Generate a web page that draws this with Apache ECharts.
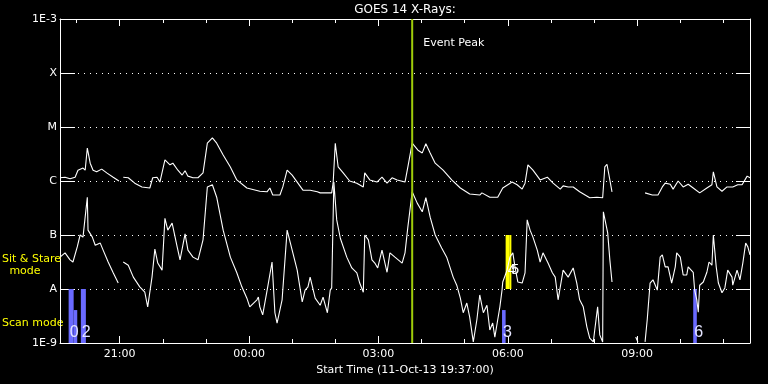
<!DOCTYPE html>
<html><head><meta charset="utf-8">
<script src="https://cdn.jsdelivr.net/npm/echarts@6/dist/echarts.min.js"></script>
<style>html,body{margin:0;padding:0;background:#000}#c{width:768px;height:384px}</style>
</head><body><div id="c"></div>
<script>
// Time axis: minutes after 00:00 on 11-Oct-13; plot starts 19:37, spans 16 h
const START_MIN = 1177;
const SPAN_MIN = 960;
const xTickValues = [1260, 1440, 1620, 1800, 1980];
const xTickLabels = ['21:00', '00:00', '03:00', '06:00', '09:00'];
// Y axis: log10 of X-ray flux (W/m^2)
const yTickLabels = ['1E-9', 'A', 'B', 'C', 'M', 'X', '1E-3'];

// Long channel (1-8 A): minutes after start, log10 flux
const longT = [0,7,14,21,25,32,35,38,42,46,51,58,65,74,82,85,88,95,104,114,125,129,135,139,146,153,157,164,170,174,178,185,192,199,205,212,218,227,237,246,260,278,288,292,296,306,310,316,323,330,338,348,358,362,378,380,383,387,394,403,413,422,424,431,441,448,455,462,469,480,484,490,498,504,509,515,522,533,545,557,570,584,587,598,609,616,629,636,643,647,651,658,668,678,686,696,700,707,714,723,737,747,755,758,761,765,768,790,814,824,832,838,842,849,853,860,867,874,881,890,900,907,909,914,921,928,936,943,949,956,960];
const longLog = [-5.94,-5.93,-5.96,-5.93,-5.80,-5.76,-5.80,-5.39,-5.67,-5.80,-5.83,-5.78,-5.85,-5.93,-6.00,null,-5.93,-5.94,-6.04,-6.11,-6.13,-5.94,-5.93,-6.02,-5.61,-5.70,-5.67,-5.80,-5.89,-5.81,-5.91,-5.94,-5.94,-5.85,-5.30,-5.20,-5.30,-5.52,-5.74,-5.98,-6.13,-6.19,-6.20,-6.13,-6.26,-6.26,-6.11,-5.80,-5.89,-6.02,-6.17,-6.17,-6.20,-6.22,-6.22,-6.04,-5.30,-5.74,-5.85,-6.00,-6.04,-6.11,-5.85,-5.98,-6.02,-5.93,-6.04,-5.94,-5.98,-6.02,-5.74,-5.30,-5.43,-5.48,-5.31,-5.48,-5.67,-5.80,-5.98,-6.13,-6.24,-6.26,-6.22,-6.30,-6.30,-6.13,-6.02,-6.07,-6.15,-6.04,-5.70,-5.80,-5.98,-5.93,-6.04,-6.15,-6.09,-6.11,-6.11,-6.20,-6.31,-6.30,-6.31,-5.74,-5.69,-5.98,-6.20,null,-6.22,-6.26,-6.26,-6.11,-6.04,-6.06,-6.15,-6.00,-6.11,-6.06,-6.13,-6.22,-6.13,-6.07,-5.83,-6.11,-6.19,-6.11,-6.11,-6.07,-6.07,-5.91,-5.94];

// Short channel (0.5-4 A): minutes after start, log10 flux
const shortT = [0,7,14,18,24,28,32,35,38,39,45,49,56,60,67,74,81,85,88,95,102,111,118,122,128,132,136,142,146,150,156,163,167,174,178,185,192,199,205,212,218,227,237,246,253,260,264,274,276,278,282,289,295,299,302,309,316,323,330,337,341,345,348,355,362,366,372,376,378,381,385,390,399,406,413,417,422,424,429,434,438,442,448,455,459,466,476,480,484,490,497,504,509,515,522,531,538,547,552,557,561,566,570,575,580,584,589,594,598,602,605,609,612,615,616,622,626,630,633,637,643,647,650,651,654,658,664,668,672,679,685,689,693,700,707,714,719,723,728,733,737,742,744,748,751,755,756,758,762,765,768,785,801,804,810,814,817,821,825,831,835,838,842,846,851,856,858,863,867,872,874,881,883,886,888,890,895,900,903,907,909,913,916,921,925,929,935,936,942,946,950,954,957,960];
const shortLog = [-7.41,-7.33,-7.46,-7.50,-7.22,-7.00,-7.04,-6.67,-6.30,-6.91,-7.04,-7.19,-7.15,-7.28,-7.50,-7.70,-7.89,null,-7.50,-7.56,-7.78,-7.96,-8.06,-8.33,-7.78,-7.26,-7.52,-7.65,-6.69,-6.91,-6.78,-7.22,-7.46,-6.98,-7.28,-7.41,-7.46,-7.09,-6.11,-6.07,-6.30,-6.91,-7.41,-7.70,-7.96,-8.17,-8.33,-8.20,-8.15,-8.33,-8.48,-7.96,-7.50,-8.44,-8.63,-8.20,-6.91,-7.28,-7.65,-8.24,-8.02,-7.96,-7.78,-8.17,-8.30,-8.15,-8.44,-8.02,-7.98,-6.02,-6.72,-7.06,-7.41,-7.61,-7.70,-7.89,-8.06,-7.00,-7.09,-7.46,-7.52,-7.61,-7.28,-7.69,-7.33,-7.41,-7.52,-7.33,-6.85,-6.20,-6.41,-6.57,-6.31,-6.67,-7.00,-7.24,-7.41,-7.78,-7.93,-8.17,-8.44,-8.26,-8.52,-8.98,-8.57,-8.11,-8.44,-8.30,-8.76,-8.63,-8.89,-8.57,-8.33,-8.02,-7.87,-7.65,-7.41,-7.33,-7.59,-7.87,-7.89,-7.70,-6.72,-6.69,-6.91,-7.04,-7.28,-7.50,-7.33,-7.52,-7.70,-7.78,-8.20,-7.65,-7.78,-7.61,-7.89,-8.20,-8.33,-8.70,-8.91,-8.98,-8.76,-8.33,-8.85,-8.98,-6.57,-6.57,-6.96,-7.46,-7.87,null,-8.89,-8.98,null,-8.98,-8.57,-7.89,-7.83,-8.02,-7.41,-7.37,-7.59,-7.59,-7.89,-7.59,-7.33,-7.41,-7.74,-7.74,-7.59,-7.69,-8.02,-8.20,-8.43,-7.93,-7.87,-7.69,-7.50,-7.56,-7.00,-7.59,-7.89,-8.07,-7.98,-7.65,-7.78,-7.93,-7.65,-7.83,-7.52,-7.15,-7.22,-7.37];

// Scan mode periods (minutes after start) and their bar heights (log10)
const scanStart = [12, 19, 29, 615, 881];
const scanEnd = [19, 24, 36, 620, 886];
const scanTop = [-8, -8.39, -8, -8.39, -8];
const scanLabels = ['0', '', '2', '3', '6'];
// Sit & stare periods
const stareStart = [620, 625];
const stareEnd = [625, 628];
const stareTop = [-7, -7];
const stareBottom = [-8, -8];
const stareLabels = ['4', '5'];
// Event peak
const peakT = 490;

const FONT = 'DejaVu Sans';
const Y_MIN = -9, Y_MAX = -3;
const LABEL_LEVEL = -8.81, STARE_LABEL_LEVEL = -7.65;

const chart = echarts.init(document.getElementById('c'), null, {renderer: 'canvas'});
const toPairs = (ts, vs) => ts.map((t, i) => [START_MIN + t, vs[i] === null ? '-' : vs[i]]);
const fmtX = v => { const i = xTickValues.indexOf(Math.round(v)); return i >= 0 ? xTickLabels[i] : ''; };

const majorX = (pos, withLabels) => ({
  type: 'value', position: pos, min: START_MIN, max: START_MIN + SPAN_MIN,
  minInterval: 180, maxInterval: 180,
  axisLine: {show: true, onZero: false, lineStyle: {color: '#fff', width: 1}},
  axisTick: {show: true, inside: true, length: 7, lineStyle: {color: '#fff', width: 1}},
  axisLabel: withLabels ? {show: true, color: '#fff', fontSize: 11, fontFamily: FONT, margin: 6,
    showMinLabel: false, showMaxLabel: false, formatter: fmtX} : {show: false},
  splitLine: {show: false}
});
const minorX = (pos) => ({
  type: 'value', position: pos, min: START_MIN, max: START_MIN + SPAN_MIN,
  minInterval: 60, maxInterval: 60,
  axisLine: {show: false, onZero: false},
  axisTick: {show: true, inside: true, length: 4, lineStyle: {color: '#fff', width: 1}},
  axisLabel: {show: false}, splitLine: {show: false}
});

const xBottom = majorX('bottom', true);
xBottom.name = 'Start Time (11-Oct-13 19:37:00)';
xBottom.nameLocation = 'middle';
xBottom.nameGap = 19;
xBottom.nameTextStyle = {color: '#fff', fontSize: 11, fontFamily: FONT};

const option = {
  backgroundColor: '#000',
  animation: false,
  grid: {left: 60, right: 18, top: 19, bottom: 41, containLabel: false},
  xAxis: [xBottom, majorX('top', false), minorX('bottom'), minorX('top')],
  yAxis: [
    {type: 'value', position: 'left', min: Y_MIN, max: Y_MAX, interval: 1,
     axisLine: {show: true, onZero: false, lineStyle: {color: '#fff', width: 1}},
     axisTick: {show: true, inside: true, length: 15, lineStyle: {color: '#fff', width: 1}},
     axisLabel: {color: '#fff', fontSize: 11, fontFamily: FONT, margin: 3,
       formatter: v => yTickLabels[Math.round(v - Y_MIN)] || ''},
     splitLine: {show: true, lineStyle: {color: '#fff', width: 1, type: [1, 5]}}},
    {type: 'value', position: 'right', min: Y_MIN, max: Y_MAX, interval: 1,
     axisLine: {show: true, onZero: false, lineStyle: {color: '#fff', width: 1}},
     axisTick: {show: true, inside: true, length: 14, lineStyle: {color: '#fff', width: 1}},
     axisLabel: {show: false}, splitLine: {show: false}}
  ],
  graphic: [
    {type: 'text', x: 405, y: 10, style: {text: 'GOES 14 X-Rays:', fill: '#fff', font: '12px "DejaVu Sans"', align: 'center', verticalAlign: 'middle'}},
    {type: 'text', x: 2, y: 259, z: 10, style: {text: 'Sit & Stare', fill: '#ffff00', font: '11px "DejaVu Sans"', align: 'left', verticalAlign: 'middle'}},
    {type: 'text', x: 25, y: 271, style: {text: 'mode', fill: '#ffff00', font: '11px "DejaVu Sans"', align: 'center', verticalAlign: 'middle'}},
    {type: 'text', x: 2, y: 323, style: {text: 'Scan mode', fill: '#ffff00', font: '11px "DejaVu Sans"', align: 'left', verticalAlign: 'middle'}}
  ],
  series: [
    {type: 'custom', name: 'Scan mode', z: 1, xAxisIndex: 0, yAxisIndex: 0,
     data: scanStart.map((s, i) => [START_MIN + s, START_MIN + scanEnd[i], scanTop[i]]),
     encode: {x: [0, 1], y: 2},
     renderItem: (params, api) => {
       const a = api.coord([api.value(0), api.value(2)]);
       const b = api.coord([api.value(1), Y_MIN]);
       return {type: 'rect', shape: {x: a[0], y: a[1], width: b[0] - a[0], height: b[1] - a[1]}, style: {fill: '#6a6aff'}};
     }},
    {type: 'custom', name: 'Sit & Stare', z: 1, xAxisIndex: 0, yAxisIndex: 0,
     data: stareStart.map((s, i) => [START_MIN + s, START_MIN + stareEnd[i], stareTop[i], stareBottom[i]]),
     encode: {x: [0, 1], y: [2, 3]},
     renderItem: (params, api) => {
       const a = api.coord([api.value(0), api.value(2)]);
       const b = api.coord([api.value(1), api.value(3)]);
       return {type: 'rect', shape: {x: a[0], y: a[1], width: b[0] - a[0], height: b[1] - a[1]}, style: {fill: '#ffff00'}};
     }},
    {type: 'line', name: 'Long', z: 3, data: toPairs(longT, longLog), showSymbol: false, symbol: 'none',
     connectNulls: false, clip: true, lineStyle: {color: '#fff', width: 1.1}},
    {type: 'line', name: 'Short', z: 3, data: toPairs(shortT, shortLog), showSymbol: false, symbol: 'none',
     connectNulls: false, clip: true, lineStyle: {color: '#fff', width: 1.1}},
    {type: 'custom', name: 'Event Peak', z: 4, xAxisIndex: 0, yAxisIndex: 0,
     data: [[START_MIN + peakT, Y_MAX]], encode: {x: 0, y: 1}, clip: false,
     renderItem: (params, api) => {
       const p = api.coord([api.value(0), Y_MAX]);
       const q = api.coord([api.value(0), Y_MIN]);
       return {type: 'group', children: [
         {type: 'line', shape: {x1: p[0], y1: p[1], x2: q[0], y2: q[1]}, style: {stroke: '#9fcc0a', lineWidth: 2}},
         {type: 'text', x: p[0] + 11, y: p[1] + 24, style: {text: 'Event Peak', fill: '#fff', font: '11px "DejaVu Sans"', align: 'left', verticalAlign: 'middle'}}
       ]};
     }},
    {type: 'custom', name: 'Scan labels', z: 5, xAxisIndex: 0, yAxisIndex: 0,
     data: scanStart.map(s => [START_MIN + s, LABEL_LEVEL]), encode: {x: 0, y: 1},
     renderItem: (params, api) => {
       const p = api.coord([api.value(0), api.value(1)]);
       return {type: 'text', x: p[0] + 1, y: p[1], style: {text: scanLabels[params.dataIndex], fill: '#e4e4ff', font: '16px "Liberation Sans"', align: 'left', verticalAlign: 'middle'}};
     }},
    {type: 'custom', name: 'Stare labels', z: 5, xAxisIndex: 0, yAxisIndex: 0,
     data: stareStart.map(s => [START_MIN + s, STARE_LABEL_LEVEL]), encode: {x: 0, y: 1},
     renderItem: (params, api) => {
       const p = api.coord([api.value(0), api.value(1)]);
       return {type: 'text', x: p[0] + 2, y: p[1], style: {text: stareLabels[params.dataIndex], fill: '#fff', font: '14px "Liberation Sans"', align: 'left', verticalAlign: 'middle'}};
     }}
  ]
};
chart.setOption(option);
</script>
</body></html>
